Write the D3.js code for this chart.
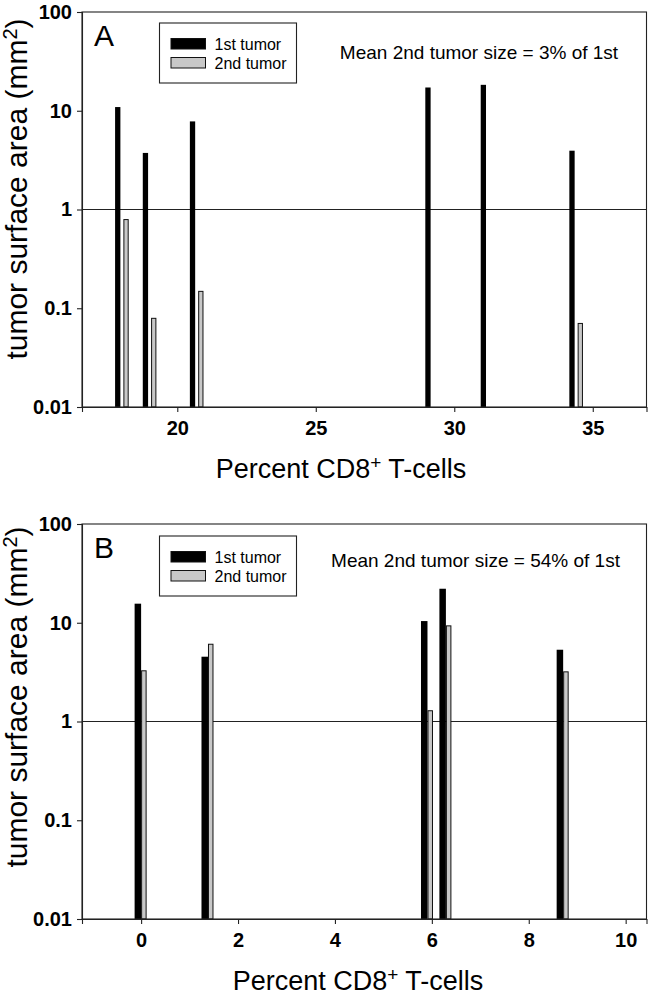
<!DOCTYPE html>
<html>
<head>
<meta charset="utf-8">
<script src="https://cdn.jsdelivr.net/npm/d3@7"></script>
<style>
  html, body { margin: 0; padding: 0; background: #fff; }
  svg { display: block; }
  text { font-family: "Liberation Sans", Arial, sans-serif; fill: #000; }
</style>
</head>
<body>
<svg id="chart" width="651" height="997"></svg>
<script>
// ---------- data ----------
const seriesNames = ["1st tumor", "2nd tumor"];
const yTicks = [0.01, 0.1, 1, 10, 100];

const xA = [18.0, 19.0, 20.7, 29.2, 31.2, 34.4];
const firstA = [10.9, 3.74, 7.8, 17.2, 18.3, 3.94];
const secondA = [0.80, 0.080, 0.15, null, null, 0.071];
const xTicksA = [20, 25, 30, 35];
const noteA = "Mean 2nd tumor size = 3% of 1st";

const xB = [0, 1.38, 5.91, 6.29, 8.71];
const firstB = [15.6, 4.53, 10.4, 22.1, 5.33];
const secondB = [3.30, 6.13, 1.30, 9.41, 3.22];
const xTicksB = [0, 2, 4, 6, 8, 10];
const noteB = "Mean 2nd tumor size = 54% of 1st";

// ---------- layout ----------
const panels = [
  { label: "A", x: xA, s1: firstA, s2: secondA, ticks: xTicksA, note: noteA,
    xDomain: [16.56, 36.94], top: 12, bottom: 407,
    blackW: 5.3, grayW: 5.3, gap: 1.5,
    legendY: 23, noteCx: 479, noteY: 59, xTitleCx: 341, yTitleCy: 189 },
  { label: "B", x: xB, s1: firstB, s2: secondB, ticks: xTicksB, note: noteB,
    xDomain: [-1.22, 10.43], top: 524, bottom: 919,
    blackW: 6.5, grayW: 5.5, gap: 0,
    legendY: 536, noteCx: 475.5, noteY: 566.5, xTitleCx: 358, yTitleCy: 697 }
];
const left = 82, right = 646.5;
const axisColor = "#222";

const svg = d3.select("#chart");

function fmt(v) { return String(v); }

panels.forEach(p => {
  const g = svg.append("g");
  const x = d3.scaleLinear().domain(p.xDomain).range([left, right]);
  const y = d3.scaleLog().domain([0.01, 100]).range([p.bottom, p.top]);

  // reference line at 1
  g.append("line")
    .attr("x1", left).attr("x2", right)
    .attr("y1", y(1)).attr("y2", y(1))
    .attr("stroke", axisColor).attr("stroke-width", 1.1);

  const data = p.x.map((xv, i) => ({ x: xv, a: p.s1[i], b: p.s2[i] }));

  // 1st tumor bars (black)
  g.selectAll("rect.first").data(data.filter(d => d.a != null)).join("rect")
    .attr("class", "first")
    .attr("x", d => x(d.x) - p.gap - p.blackW)
    .attr("width", p.blackW)
    .attr("y", d => y(d.a))
    .attr("height", d => y(0.01) - y(d.a))
    .attr("fill", "#000");

  // 2nd tumor bars (gray, outlined)
  g.selectAll("rect.second").data(data.filter(d => d.b != null)).join("rect")
    .attr("class", "second")
    .attr("x", d => x(d.x) + p.gap + 0.5)
    .attr("width", p.grayW - 1)
    .attr("y", d => y(d.b) + 0.5)
    .attr("height", d => y(0.01) - y(d.b) - 0.5)
    .attr("fill", "#c8c8c8")
    .attr("stroke", "#111").attr("stroke-width", 1);

  // frame
  g.append("rect")
    .attr("x", left).attr("y", p.top)
    .attr("width", right - left).attr("height", p.bottom - p.top)
    .attr("fill", "none").attr("stroke", axisColor).attr("stroke-width", 1.1);

  // axes
  const yAxis = d3.axisLeft(y).tickValues(yTicks).tickFormat(fmt).tickSize(5).tickPadding(5);
  const ya = g.append("g").attr("transform", `translate(${left},0)`).call(yAxis);
  const xAxis = d3.axisBottom(x).tickValues(p.ticks).tickFormat(d3.format("d")).tickSize(5).tickPadding(9);
  const xa = g.append("g").attr("transform", `translate(0,${p.bottom})`).call(xAxis);
  [ya, xa].forEach(a => {
    a.select(".domain").attr("stroke", axisColor).attr("stroke-width", 1.1);
    a.selectAll(".tick line").attr("stroke", axisColor).attr("stroke-width", 1.1);
    a.selectAll(".tick text")
      .attr("font-family", '"Liberation Sans", Arial, sans-serif')
      .attr("font-weight", "bold").attr("font-size", 20).attr("fill", "#000");
  });

  // panel label
  g.append("text").attr("x", 94).attr("y", p.top + 34)
    .attr("font-size", 30).text(p.label);

  // legend
  const lg = g.append("g").attr("transform", `translate(159.5,${p.legendY})`);
  lg.append("rect").attr("width", 137).attr("height", 60)
    .attr("fill", "#fff").attr("stroke", axisColor).attr("stroke-width", 1.1);
  seriesNames.forEach((name, i) => {
    lg.append("rect").attr("x", 11.5).attr("y", 15.5 + i * 19)
      .attr("width", 34.5).attr("height", 10.5)
      .attr("fill", i === 0 ? "#000" : "#c8c8c8")
      .attr("stroke", "#111").attr("stroke-width", 1);
    lg.append("text").attr("x", 55).attr("y", 26.5 + i * 19.3)
      .attr("font-size", 16).text(name);
  });

  // note
  g.append("text").attr("x", p.noteCx).attr("y", p.noteY)
    .attr("text-anchor", "middle").attr("font-size", 19).text(p.note);

  // x title
  const xt = g.append("text").attr("x", p.xTitleCx).attr("y", p.bottom + 71)
    .attr("text-anchor", "middle").attr("font-size", 27);
  xt.append("tspan").text("Percent CD8");
  xt.append("tspan").attr("dy", -9).attr("font-size", 19).text("+");
  xt.append("tspan").attr("dy", 9).text(" T-cells");

  // y title
  const yt = g.append("text")
    .attr("transform", `translate(27,${p.yTitleCy}) rotate(-90)`)
    .attr("text-anchor", "middle").attr("font-size", 30);
  yt.append("tspan").text("tumor surface area (mm");
  yt.append("tspan").attr("dy", -10).attr("font-size", 20).text("2");
  yt.append("tspan").attr("dy", 10).text(")");
});
</script>
</body>
</html>
